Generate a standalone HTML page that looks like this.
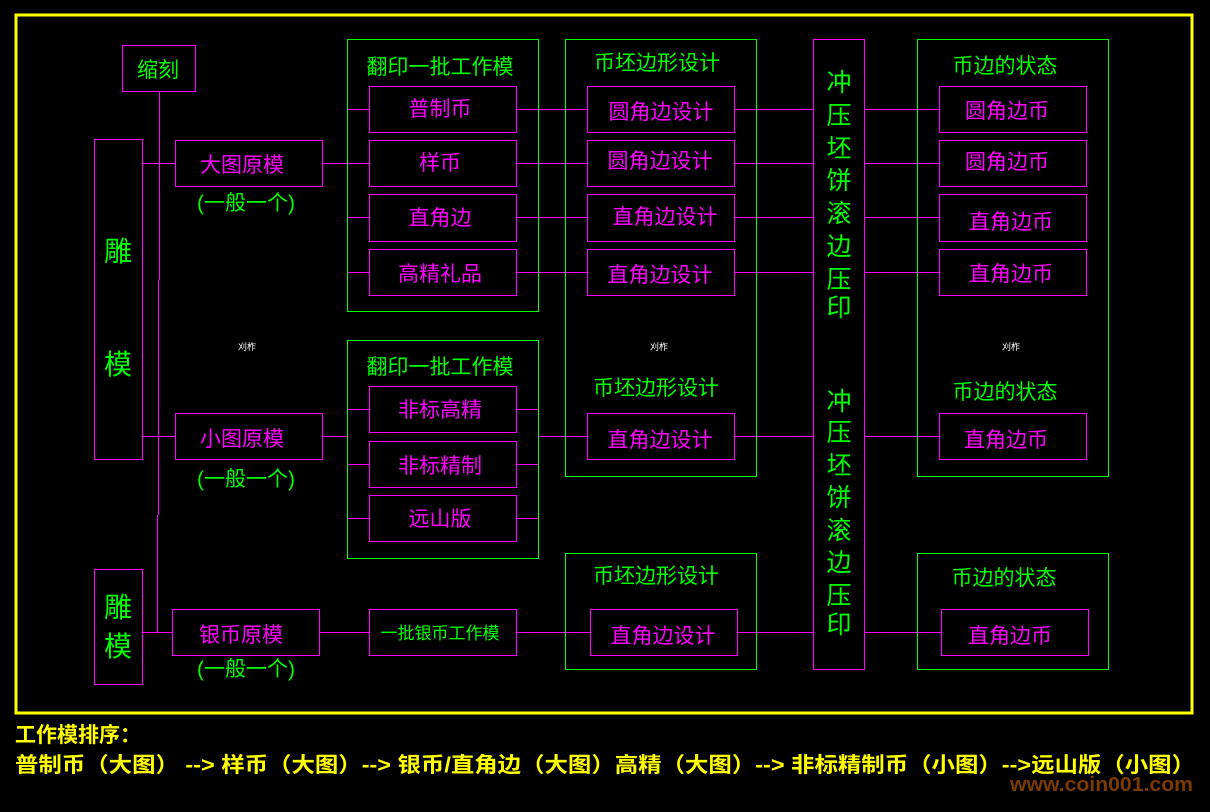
<!DOCTYPE html>
<html><head><meta charset="utf-8"><style>
html,body{margin:0;padding:0;background:#000;width:1210px;height:812px;overflow:hidden}
svg{display:block}
text{font-family:"Liberation Sans","Noto Sans CJK SC",sans-serif}
.g{fill:#00ff00;font-size:21px}
.m{fill:#ff00ff;font-size:21px}
.big{fill:#00ff00;font-size:28px}
</style></head><body>
<svg width="1210" height="812" viewBox="0 0 1210 812" xmlns="http://www.w3.org/2000/svg">
<rect x="0" y="0" width="1210" height="812" fill="#000"/>
<rect x="16" y="15" width="1176" height="698" fill="none" stroke="#ffff00" stroke-width="3"/>

<g stroke="#ff00ff" stroke-width="1" fill="none" shape-rendering="crispEdges">
<line x1="159.5" y1="91" x2="159.5" y2="280"/>
<line x1="158.5" y1="280" x2="158.5" y2="515"/>
<line x1="157.5" y1="515" x2="157.5" y2="633"/>
<line x1="142" y1="163.5" x2="175" y2="163.5"/>
<line x1="142" y1="436.5" x2="175" y2="436.5"/>
<line x1="142" y1="632.5" x2="172" y2="632.5"/>
<line x1="322" y1="163.5" x2="369" y2="163.5"/>
<line x1="322" y1="436.5" x2="347" y2="436.5"/>
<line x1="319" y1="632.5" x2="369" y2="632.5"/>
<line x1="347" y1="109.5" x2="369" y2="109.5"/>
<line x1="347" y1="217.5" x2="369" y2="217.5"/>
<line x1="347" y1="272.5" x2="369" y2="272.5"/>
<line x1="516" y1="109.5" x2="587" y2="109.5"/>
<line x1="516" y1="163.5" x2="587" y2="163.5"/>
<line x1="516" y1="217.5" x2="587" y2="217.5"/>
<line x1="516" y1="272.5" x2="587" y2="272.5"/>
<line x1="347" y1="409.5" x2="369" y2="409.5"/>
<line x1="347" y1="464.5" x2="369" y2="464.5"/>
<line x1="347" y1="518.5" x2="369" y2="518.5"/>
<line x1="516" y1="409.5" x2="538" y2="409.5"/>
<line x1="516" y1="464.5" x2="538" y2="464.5"/>
<line x1="516" y1="518.5" x2="538" y2="518.5"/>
<line x1="538" y1="436.5" x2="587" y2="436.5"/>
<line x1="516" y1="632.5" x2="590" y2="632.5"/>
<line x1="734" y1="109.5" x2="813" y2="109.5"/>
<line x1="734" y1="163.5" x2="813" y2="163.5"/>
<line x1="734" y1="217.5" x2="813" y2="217.5"/>
<line x1="734" y1="272.5" x2="813" y2="272.5"/>
<line x1="734" y1="436.5" x2="813" y2="436.5"/>
<line x1="737" y1="632.5" x2="813" y2="632.5"/>
<line x1="864" y1="109.5" x2="939" y2="109.5"/>
<line x1="864" y1="163.5" x2="939" y2="163.5"/>
<line x1="864" y1="217.5" x2="939" y2="217.5"/>
<line x1="864" y1="272.5" x2="939" y2="272.5"/>
<line x1="864" y1="436.5" x2="939" y2="436.5"/>
<line x1="864" y1="632.5" x2="941" y2="632.5"/>

<rect x="122.5" y="45.5" width="73" height="46"/>
<rect x="94.5" y="139.5" width="48" height="320"/>
<rect x="94.5" y="569.5" width="48" height="115"/>
<rect x="175.5" y="140.5" width="147" height="46"/>
<rect x="175.5" y="413.5" width="147" height="46"/>
<rect x="172.5" y="609.5" width="147" height="46"/>
<rect x="369.5" y="86.5" width="147" height="46"/>
<rect x="369.5" y="140.5" width="147" height="46"/>
<rect x="369.5" y="194.5" width="147" height="47"/>
<rect x="369.5" y="249.5" width="147" height="46"/>
<rect x="369.5" y="386.5" width="147" height="46"/>
<rect x="369.5" y="441.5" width="147" height="46"/>
<rect x="369.5" y="495.5" width="147" height="46"/>
<rect x="369.5" y="609.5" width="147" height="46"/>
<rect x="587.5" y="86.5" width="147" height="46"/>
<rect x="587.5" y="140.5" width="147" height="46"/>
<rect x="587.5" y="194.5" width="147" height="47"/>
<rect x="587.5" y="249.5" width="147" height="46"/>
<rect x="587.5" y="413.5" width="147" height="46"/>
<rect x="590.5" y="609.5" width="147" height="46"/>
<rect x="813.5" y="39.5" width="51" height="630"/>
<rect x="939.5" y="86.5" width="147" height="46"/>
<rect x="939.5" y="140.5" width="147" height="46"/>
<rect x="939.5" y="194.5" width="147" height="47"/>
<rect x="939.5" y="249.5" width="147" height="46"/>
<rect x="939.5" y="413.5" width="147" height="46"/>
<rect x="941.5" y="609.5" width="147" height="46"/>
</g>
<g stroke="#00ff00" stroke-width="1" fill="none" shape-rendering="crispEdges">
<rect x="347.5" y="39.5" width="191" height="272"/>
<rect x="347.5" y="340.5" width="191" height="218"/>
<rect x="565.5" y="39.5" width="191" height="437"/>
<rect x="565.5" y="553.5" width="191" height="116"/>
<rect x="917.5" y="39.5" width="191" height="437"/>
<rect x="917.5" y="553.5" width="191" height="116"/>
</g>

<g text-anchor="middle">
<text class="g" x="158" y="77">缩刻</text>
<text class="big" x="118" y="261">雕</text>
<text class="big" x="118" y="374">模</text>
<text class="big" x="118" y="617">雕</text>
<text class="big" x="118" y="656">模</text>
<text class="m" x="242" y="172">大图原模</text>
<text class="g" x="246" y="210">(一般一个)</text>
<text class="m" x="242" y="446">小图原模</text>
<text class="g" x="246" y="486">(一般一个)</text>
<text class="m" x="241" y="642">银币原模</text>
<text class="g" x="246" y="676">(一般一个)</text>

<text class="g" x="440" y="74">翻印一批工作模</text>
<text class="m" x="440" y="116">普制币</text>
<text class="m" x="440" y="170">样币</text>
<text class="m" x="440" y="225">直角边</text>
<text class="m" x="440" y="281">高精礼品</text>
<text class="g" x="440" y="374">翻印一批工作模</text>
<text class="m" x="440" y="417">非标高精</text>
<text class="m" x="440" y="473">非标精制</text>
<text class="m" x="440" y="526">远山版</text>
<text class="g" x="440" y="639" style="font-size:17px">一批银币工作模</text>

<text class="g" x="657" y="70">币坯边形设计</text>
<text class="m" x="661" y="119">圆角边设计</text>
<text class="m" x="660" y="168">圆角边设计</text>
<text class="m" x="665" y="224">直角边设计</text>
<text class="m" x="660" y="282">直角边设计</text>
<text class="g" x="656" y="395">币坯边形设计</text>
<text class="m" x="660" y="447">直角边设计</text>
<text class="g" x="656" y="583">币坯边形设计</text>
<text class="m" x="663" y="643">直角边设计</text>

<text class="g" x="1005" y="73">币边的状态</text>
<text class="m" x="1007" y="118">圆角边币</text>
<text class="m" x="1007" y="169">圆角边币</text>
<text class="m" x="1011" y="229">直角边币</text>
<text class="m" x="1011" y="281">直角边币</text>
<text class="g" x="1005" y="399">币边的状态</text>
<text class="m" x="1006" y="447">直角边币</text>
<text class="g" x="1004" y="585">币边的状态</text>
<text class="m" x="1010" y="643">直角边币</text>

<g class="big" style="font-size:25px">
<text x="839" y="91">冲</text>
<text x="839" y="124">压</text>
<text x="839" y="157">坯</text>
<text x="839" y="189">饼</text>
<text x="839" y="222">滚</text>
<text x="839" y="255">边</text>
<text x="839" y="288">压</text>
<text x="839" y="316">印</text>
<text x="839" y="410">冲</text>
<text x="839" y="441">压</text>
<text x="839" y="474">坯</text>
<text x="839" y="506">饼</text>
<text x="839" y="539">滚</text>
<text x="839" y="571">边</text>
<text x="839" y="604">压</text>
<text x="839" y="633">印</text>
</g>
<text x="247" y="350" fill="#fff" style="font-size:9px">刈柞</text>
<text x="659" y="350" fill="#fff" style="font-size:9px">刈柞</text>
<text x="1011" y="350" fill="#fff" style="font-size:9px">刈柞</text>
</g>

<text x="15" y="742" fill="#ffff00" style="font-size:21px;font-weight:bold">工作模排序：</text>
<text x="15" y="772" fill="#ffff00" style="font-size:21px;font-weight:bold" textLength="1180" lengthAdjust="spacingAndGlyphs">普制币（大图） --&gt; 样币（大图）--&gt; 银币/直角边（大图）高精（大图）--&gt; 非标精制币（小图）--&gt;远山版（小图）</text>
<text x="1010" y="791" fill="#7a3a00" style="font-size:20px;font-weight:bold" textLength="183" lengthAdjust="spacingAndGlyphs">www.coin001.com</text>
</svg>
</body></html>
